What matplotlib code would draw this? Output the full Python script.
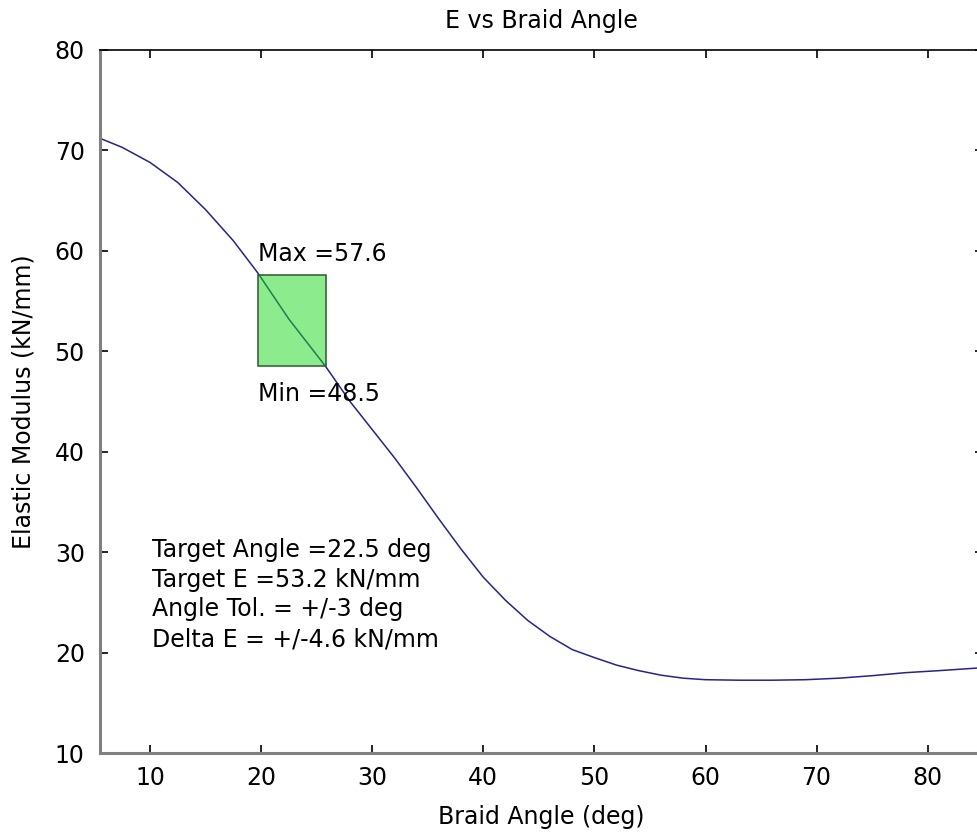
import matplotlib
matplotlib.use("Agg")
import matplotlib.pyplot as plt
from matplotlib.patches import Rectangle

plt.rcParams['font.family'] = ['DejaVu Sans']

# Braid angle (deg) vs elastic modulus (kN/mm)
braid_angle = [5.5, 7.5, 10, 12.5, 15, 17.5, 19.7, 22.5, 25.8, 28, 30, 32, 34, 36, 38,
               40, 42, 44, 46, 48, 50, 52, 54, 56, 58, 60, 63, 66, 69, 72, 75, 78, 81, 85]
elastic_mod = [71.2, 70.3, 68.8, 66.8, 64.1, 61.0, 57.8, 53.2, 48.5, 45.0, 42.2, 39.4, 36.4, 33.3, 30.3,
               27.5, 25.2, 23.2, 21.6, 20.3, 19.5, 18.75, 18.2, 17.75, 17.45, 17.3, 17.25, 17.25, 17.3, 17.45, 17.7, 18.0, 18.2, 18.5]

target_angle = 22.5
target_E = 53.2
angle_tol = 3
delta_E = 4.6
E_max = 57.6
E_min = 48.5
box_left = 19.7
box_right = 25.8

fig = plt.figure(figsize=(9.77, 8.34), dpi=100)
ax = fig.add_axes([0.1024, 0.0971, 0.904, 0.843])

ax.plot(braid_angle, elastic_mod, color='#24248a', linewidth=1.1)

# tolerance box
box = Rectangle((box_left, E_min), box_right - box_left, E_max - E_min,
                facecolor=(0.1, 0.85, 0.1, 0.5), edgecolor='#2a5a2a', linewidth=1.1, zorder=3)
ax.add_patch(box)

fs = 17
ax.text(box_left, E_max + 0.9, f"Max ={E_max}", fontsize=fs, ha='left', va='bottom')
ax.text(box_left, E_min - 1.6, f"Min ={E_min}", fontsize=fs, ha='left', va='top')

info = [f"Target Angle ={target_angle} deg",
        f"Target E ={target_E} kN/mm",
        f"Angle Tol. = +/-{angle_tol} deg",
        f"Delta E = +/-{delta_E} kN/mm"]
for i, line in enumerate(info):
    ax.text(10.2, 29.5 - i * 2.95, line, fontsize=fs, ha='left', va='baseline')

ax.set_xlim(5.5, 85)
ax.set_ylim(10, 80)
ax.set_xticks(range(10, 90, 10))
ax.set_yticks(range(10, 90, 10))

ax.tick_params(direction='in', length=6, width=1.2, top=True, right=True,
               labelsize=fs, colors='black')
ax.tick_params(axis='x', pad=9)
ax.tick_params(axis='y', pad=11)

for side in ['left', 'bottom']:
    ax.spines[side].set_color('#808080')
    ax.spines[side].set_linewidth(2.2)
ax.spines['top'].set_linewidth(1.2)
ax.spines['right'].set_linewidth(1.2)

ax.set_title("E vs Braid Angle", fontsize=fs, pad=16)
ax.set_xlabel("Braid Angle (deg)", fontsize=fs, labelpad=11)
ax.set_ylabel("Elastic Modulus (kN/mm)", fontsize=fs, labelpad=14)

fig.savefig("out.png", dpi=100)
